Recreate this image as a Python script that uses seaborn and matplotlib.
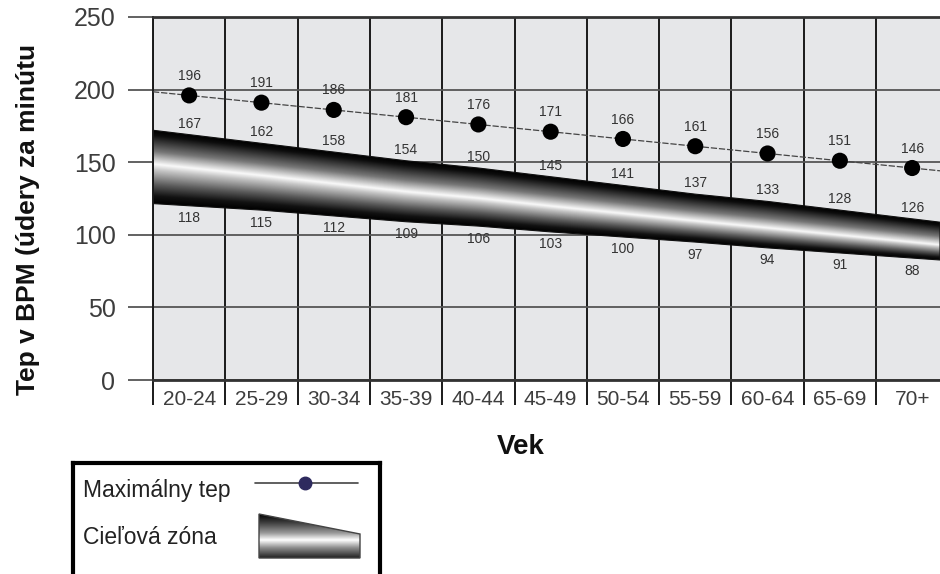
import numpy as np
import matplotlib
matplotlib.use("Agg")
import matplotlib.pyplot as plt
from matplotlib.colors import LinearSegmentedColormap
from matplotlib.patches import Polygon
import seaborn as sns

age_groups = ["20-24", "25-29", "30-34", "35-39", "40-44", "45-49",
              "50-54", "55-59", "60-64", "65-69", "70+"]
max_hr = [196, 191, 186, 181, 176, 171, 166, 161, 156, 151, 146]
zone_high = [167, 162, 158, 154, 150, 145, 141, 137, 133, 128, 126]
zone_low = [118, 115, 112, 109, 106, 103, 100, 97, 94, 91, 88]
# edges of the shaded band as drawn in the chart
band_top = [169, 163, 157, 151, 146, 140, 134, 128, 123, 117, 111]
band_bottom = [120, 117, 113, 109, 106, 102, 98.5, 95, 91, 87.5, 84]
y_ticks = [0, 50, 100, 150, 200, 250]

sns.set_theme(style="white")
plt.rcParams["font.family"] = ["Liberation Sans", "DejaVu Sans"]

W, H = 940, 574
fig = plt.figure(figsize=(W / 100, H / 100), dpi=100)
ax = fig.add_axes([153 / W, 1 - 380 / H, 787 / W, 363 / H])
ax.set_facecolor("#e6e7e9")

x = np.arange(len(age_groups))
x_left = -0.5
x_right = x_left + 787 / 72.3

# light/dark profile across the band: 0 = top edge, 1 = bottom edge
shade = LinearSegmentedColormap.from_list("band", [
    (0.0, "#000000"), (0.07, "#0d0d0d"), (0.3, "#777777"), (0.42, "#d0d0d0"),
    (0.48, "#fafafa"), (0.56, "#c4c4c4"), (0.75, "#5a5a5a"), (0.9, "#121212"),
    (1.0, "#000000")])


def edge(xq, vals):
    # straight continuation past the first / last age group
    xq = np.asarray(xq, dtype=float)
    out = np.interp(xq, x, vals)
    lo = xq < x[0]
    hi = xq > x[-1]
    out[lo] = vals[0] + (xq[lo] - x[0]) * (vals[1] - vals[0])
    out[hi] = vals[-1] + (xq[hi] - x[-1]) * (vals[-1] - vals[-2])
    return out


# 1. target zone band
gx = np.linspace(x_left, x_right, 900)
gy = np.linspace(60, 190, 500)
top = edge(gx, band_top)
bot = edge(gx, band_bottom)
t = (top[None, :] - gy[:, None]) / (top - bot)[None, :]
t = np.clip(t, 0, 1)
# the highlight sits a bit lower in the band towards the right
hl = np.linspace(0.46, 0.6, gx.size)[None, :]
t = np.where(t < hl, t / hl * 0.48, 0.48 + (t - hl) / (1 - hl) * 0.52)
rgba = shade(t)
im = ax.imshow(rgba, extent=(x_left, x_right, 60, 190), origin="lower",
               aspect="auto", interpolation="bilinear", zorder=2)
band = ax.fill_between(gx, bot, top, facecolor="none", edgecolor="#111111",
                       lw=0.8, zorder=2.1)
im.set_clip_path(band.get_paths()[0], transform=ax.transData)

# 2. max heart rate line + dots
ax.axline((x[0], max_hr[0]), (x[-1], max_hr[-1]), color="#444444", lw=0.9,
          ls=(0, (5, 1.5)), zorder=3)
sns.scatterplot(x=x, y=max_hr, ax=ax, color="black", s=135, edgecolor="none",
                zorder=4, legend=False)

# 3. value labels
for i, v in enumerate(max_hr):
    ax.annotate(str(v), (i, v), xytext=(0, 14), textcoords="offset points",
                ha="center", va="center", fontsize=10, color="#333333", zorder=5)
for i, v in enumerate(zone_high):
    ax.annotate(str(v), (i, band_top[i]), xytext=(0, 8), textcoords="offset points",
                ha="center", va="center", fontsize=10, color="#333333", zorder=5)
for i, v in enumerate(zone_low):
    ax.annotate(str(v), (i, band_bottom[i]), xytext=(0, -9), textcoords="offset points",
                ha="center", va="center", fontsize=10, color="#333333", zorder=5)

# 4. axes, grid, ticks
ax.set_xlim(x_left, x_right)
ax.set_ylim(0, 250)
ax.set_yticks(y_ticks)
ax.set_xticks(x, labels=age_groups)
ax.set_xticks(x - 0.5, minor=True)
ax.grid(axis="y", which="major", color="#555555", lw=1.3)
ax.grid(axis="x", which="minor", color="#1a1a1a", lw=1.4)
ax.set_axisbelow(True)
ax.tick_params(axis="y", which="major", left=True, length=18, width=1.3,
               color="#555555", pad=9, labelsize=18, labelcolor="#3d3d3d")
ax.tick_params(axis="x", which="major", bottom=True, length=0, pad=7,
               labelsize=15, labelcolor="#3d3d3d")
ax.tick_params(axis="x", which="minor", bottom=True, length=18, width=1.4,
               color="#1a1a1a")
for s in ["top", "bottom"]:
    ax.spines[s].set(color="#333333", lw=2)
ax.spines["left"].set(color="#1a1a1a", lw=1.4)
ax.spines["right"].set_visible(False)

ax.set_ylabel("Tep v BPM (údery za minútu", fontsize=19, fontweight="bold",
              color="#111111", va="center")
ax.yaxis.set_label_coords((28 - 153) / 787, (380 - 219.5) / 363)
ax.set_xlabel("Vek", fontsize=20, fontweight="bold", color="#111111")
ax.xaxis.set_label_coords((521 - 153) / 787, -(434 - 380) / 363)

# 5. legend box (cut off by the bottom edge like the original)
lax = fig.add_axes([73 / W, 0, 307 / W, 111 / H])
lax.set_xticks([])
lax.set_yticks([])
lax.set_facecolor("white")
for s in ["top", "left", "right"]:
    lax.spines[s].set(lw=3, color="black")
lax.spines["bottom"].set_visible(False)

lax.text(10, 27, "Maximálny tep", fontsize=16.5, va="center", color="#222222")
lax.plot([182, 285], [20, 20], color="#444444", lw=1.2)
lax.plot([232], [20], "o", ms=9, color="#2e2a5e")
lax.text(10, 74, "Cieľová zóna", fontsize=16.5, va="center", color="#222222")

leg_shade = LinearSegmentedColormap.from_list("legband", [
    (0.0, "#000000"), (0.2, "#404040"), (0.43, "#999999"), (0.59, "#ffffff"),
    (0.77, "#8c8c8c"), (1.0, "#222222")])
grad = leg_shade(np.linspace(0, 1, 200))[:, None, :]
lim = lax.imshow(grad, extent=(186, 287, 95, 51), origin="upper", aspect="auto",
                 interpolation="bilinear")
trap = Polygon([(186, 51), (287, 71), (287, 95), (186, 95)], closed=True,
               facecolor="none", edgecolor="#444444", lw=1)
lax.add_patch(trap)
lim.set_clip_path(trap)
lax.set_xlim(0, 307)
lax.set_ylim(111, 0)

fig.savefig("out.png", dpi=100)
